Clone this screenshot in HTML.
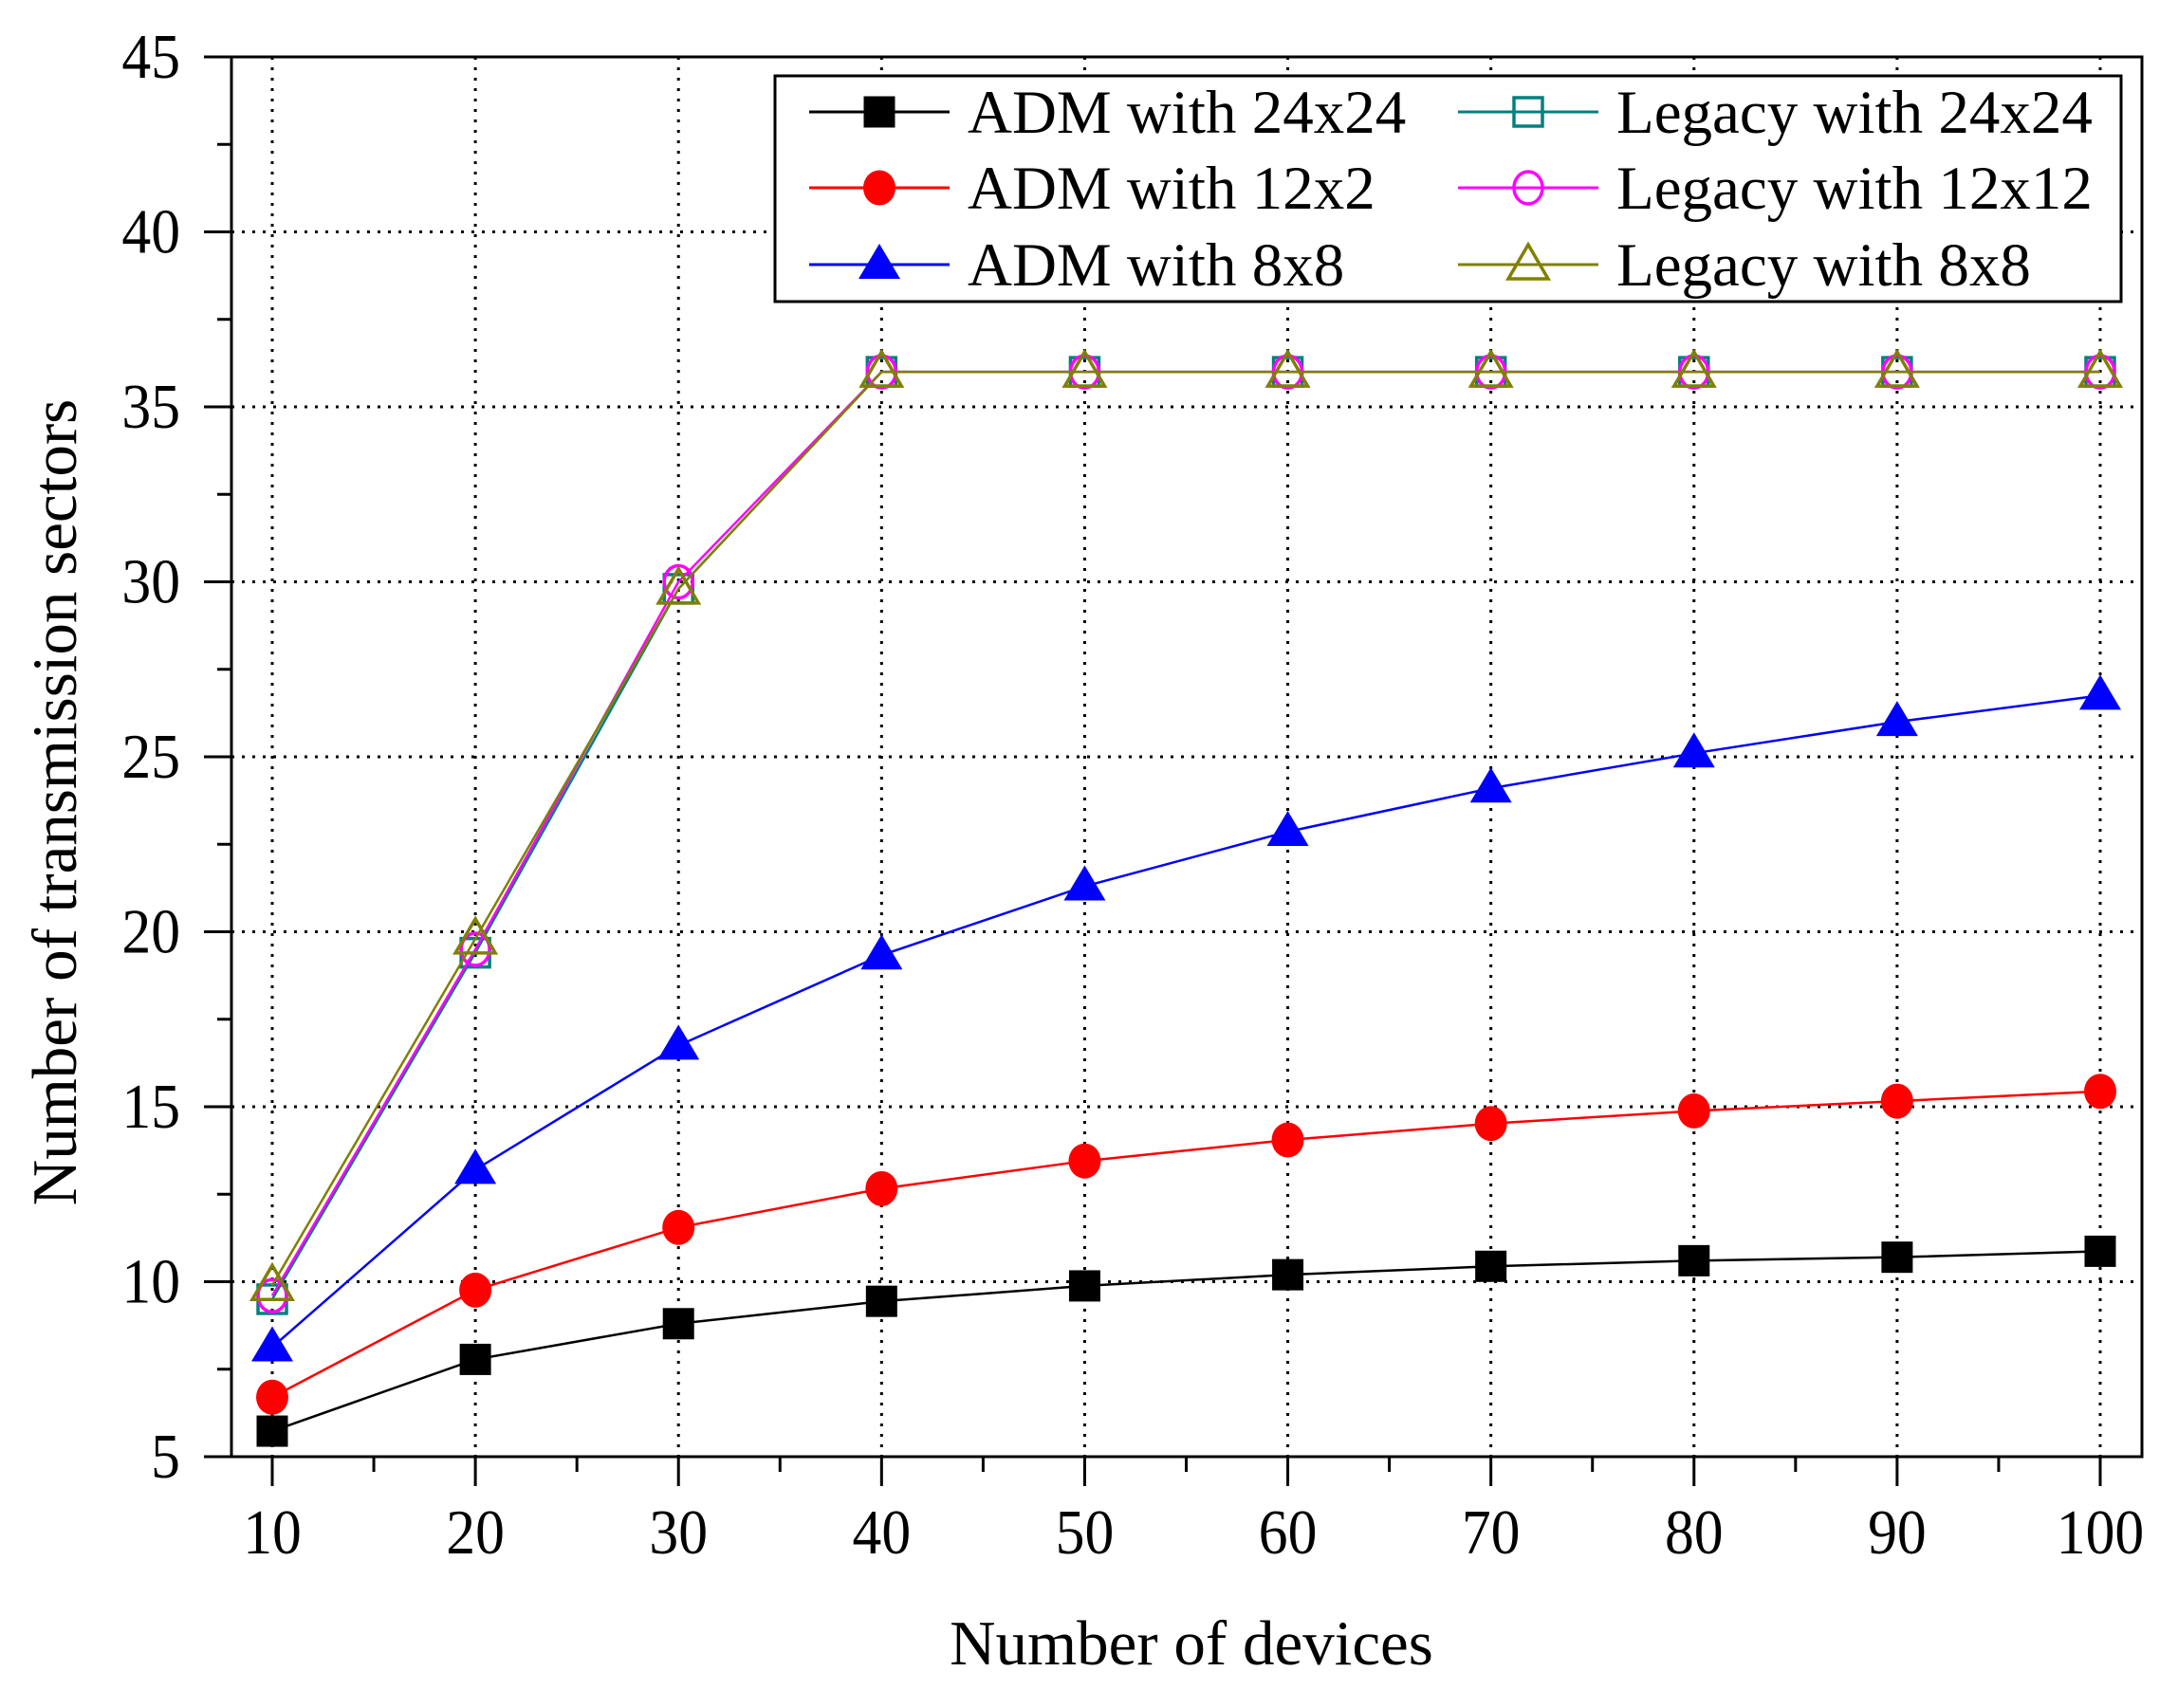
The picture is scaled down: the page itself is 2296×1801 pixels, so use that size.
<!DOCTYPE html>
<html><head><meta charset="utf-8"><style>
html,body{margin:0;padding:0;background:#fff;}
svg{display:block;font-family:"Liberation Serif","DejaVu Serif",serif;}
</style></head><body>
<svg id="chart" width="2296" height="1801" viewBox="0 0 2296 1801" xmlns="http://www.w3.org/2000/svg">
<g id="grid"></g>
<g id="axes"></g>
<g id="series"></g>
<g id="legend"></g>
<text x="1256" y="1755" font-size="67" text-anchor="middle">Number of devices</text>
<text transform="translate(80,846) rotate(-90)" font-size="67" text-anchor="middle">Number of transmission sectors</text>
</svg>
<script>
const categories = [10,20,30,40,50,60,70,80,90,100];
const admA = [5.73,7.78,8.8,9.44,9.88,10.2,10.44,10.6,10.7,10.87];
const admB = [6.7,9.76,11.55,12.66,13.45,14.05,14.52,14.88,15.16,15.44];
const admC = [8.13,13.2,16.75,19.33,21.3,22.86,24.1,25.1,26.0,26.75];
const legA = [9.5,19.4,29.8,36,36,36,36,36,36,36];
const legB = [9.6,19.5,30.0,36,36,36,36,36,36,36];
const legC = [9.9,19.8,29.8,36,36,36,36,36,36,36];
const xTicks = [10,20,30,40,50,60,70,80,90,100];
const yTicks = [5,10,15,20,25,30,35,40,45];
const seriesNames = ["ADM with 24x24","ADM with 12x2","ADM with 8x8","Legacy with 24x24","Legacy with 12x12","Legacy with 8x8"];

const NS="http://www.w3.org/2000/svg";
const L=244,R=2258,T=60,B=1536;
function xs(v){return 287+(v-10)*(2214-287)/90;}
function ys(v){return B-(v-5)*(B-T)/40;}
function mk(tag,attrs,parent){const e=document.createElementNS(NS,tag);for(const k in attrs)e.setAttribute(k,attrs[k]);parent.appendChild(e);return e;}
const grid=document.getElementById('grid'),axes=document.getElementById('axes'),ser=document.getElementById('series'),leg=document.getElementById('legend');

xTicks.forEach(v=>{
  const g=mk('line',{x1:xs(v),x2:xs(v),y1:T,y2:B,stroke:'#000','stroke-width':3,'stroke-dasharray':'3 8'},grid);
  
  
  const t=mk('line',{x1:xs(v),x2:xs(v),y1:B,y2:B+31,stroke:'#000','stroke-width':3},axes);
  
  
  const lb=mk('text',{transform:`translate(${xs(v)},1638) scale(0.92,1)`,'font-size':67,'text-anchor':'middle'},axes);
  lb.textContent=v;
  
  
});
for(let v=15;v<100;v+=10){
  const t=mk('line',{x1:xs(v),x2:xs(v),y1:B,y2:B+16,stroke:'#000','stroke-width':3},axes);
  
  
}
yTicks.forEach(v=>{
  if(v>5&&v<45){
    const g=mk('line',{x1:L,x2:R,y1:ys(v),y2:ys(v),stroke:'#000','stroke-width':3,'stroke-dasharray':'3 8'},grid);
    
    
  }
  const t=mk('line',{x1:L-29,x2:L,y1:ys(v),y2:ys(v),stroke:'#000','stroke-width':3},axes);
  
  
  const lb=mk('text',{transform:`translate(190,${ys(v)+22}) scale(0.92,1)`,'font-size':67,'text-anchor':'end'},axes);
  lb.textContent=v;
  
  
});
for(let v=7.5;v<45;v+=5){
  const t=mk('line',{x1:L-15,x2:L,y1:ys(v),y2:ys(v),stroke:'#000','stroke-width':3},axes);
  
  
}
const frame=mk('rect',{x:L,y:T,width:R-L,height:B-T,fill:'none',stroke:'#000','stroke-width':3},axes);



function marker(type,cx,cy,color,parent){
  let e;
  if(type==='sq'){e=mk('rect',{x:cx-16.5,y:cy-16.5,width:33,height:33,fill:color},parent);}
  else if(type==='ci'){e=mk('ellipse',{cx:cx,cy:cy,rx:17,ry:18.5,fill:color},parent);}
  else if(type==='tr'){e=mk('polygon',{points:`${cx},${cy-22} ${cx-22},${cy+15} ${cx+22},${cy+15}`,fill:color},parent);}
  else if(type==='hsq'){e=mk('rect',{x:cx-15,y:cy-15,width:30,height:30,fill:'none',stroke:color,'stroke-width':3.5},parent);}
  else if(type==='hci'){e=mk('ellipse',{cx:cx,cy:cy,rx:15,ry:17,fill:'none',stroke:color,'stroke-width':3.5},parent);}
  else {e=mk('polygon',{points:`${cx},${cy-21} ${cx-21},${cy+15} ${cx+21},${cy+15}`,fill:'none',stroke:color,'stroke-width':3.5},parent);}
  return e;
}
const defs=[
 {d:legA,c:'#008080',m:'hsq'},
 {d:legB,c:'#ff00ff',m:'hci'},
 {d:legC,c:'#808000',m:'htr'},
 {d:admA,c:'#000000',m:'sq'},
 {d:admB,c:'#ff0000',m:'ci'},
 {d:admC,c:'#0000ff',m:'tr'}
];
const names=['legacy-24x24','legacy-12x12','legacy-8x8','adm-24x24','adm-12x2','adm-8x8'];
defs.forEach((s,i)=>{
  const g=mk('g',{},ser);
  
  
  const pts=categories.map((c,j)=>xs(c)+','+ys(s.d[j])).join(' ');
  const pl=mk('polyline',{points:pts,fill:'none',stroke:s.c,'stroke-width':2.5},g);
  
  
  categories.forEach((c,j)=>{
    const m=marker(s.m,xs(c),ys(s.d[j]),s.c,g);
    
    
  });
});

const box=mk('rect',{x:817,y:80,width:1419,height:238,fill:'#fff',stroke:'#000','stroke-width':3},leg);


const legItems=[
 {c:'#000000',m:'sq',x:853,row:0},{c:'#ff0000',m:'ci',x:853,row:1},{c:'#0000ff',m:'tr',x:853,row:2},
 {c:'#008080',m:'hsq',x:1537,row:0},{c:'#ff00ff',m:'hci',x:1537,row:1},{c:'#808000',m:'htr',x:1537,row:2}
];
const rowY=[118,198,279];
legItems.forEach((it,i)=>{
  const g=mk('g',{},leg);
  
  
  const y=rowY[it.row];
  mk('line',{x1:it.x,x2:it.x+148,y1:y,y2:y,stroke:it.c,'stroke-width':3},g);
  marker(it.m,it.x+74,y,it.c,g);
  const t=mk('text',{x:it.x+167,y:y+22,'font-size':65},g);
  t.textContent=seriesNames[i];
});
</script>
</body></html>
